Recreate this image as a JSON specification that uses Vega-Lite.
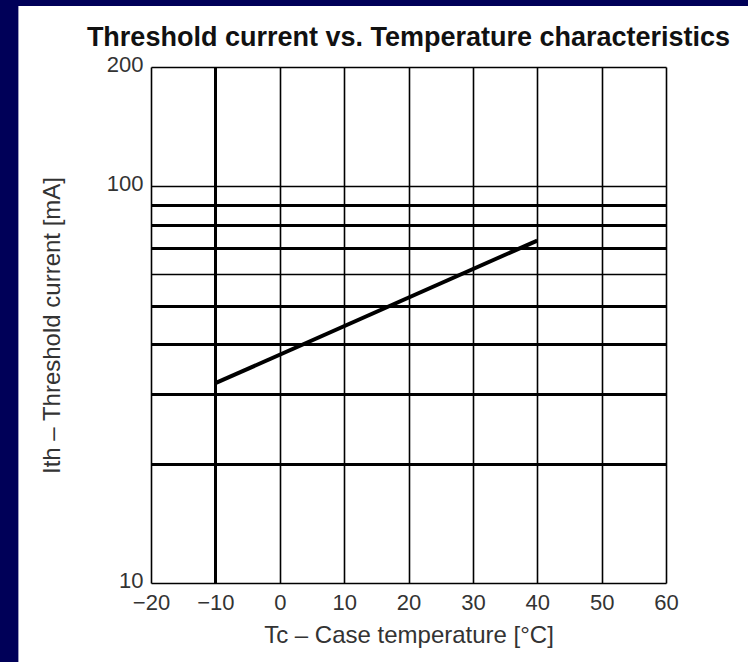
{
  "$schema": "https://vega.github.io/schema/vega-lite/v6.json",
  "width": 515,
  "height": 516,
  "autosize": {"type": "none"},
  "padding": {"left": 151, "top": 67, "right": 82, "bottom": 79},
  "background": "#000058",
  "title": {
    "text": "Threshold current vs. Temperature characteristics",
    "font": "Liberation Sans",
    "fontSize": 27,
    "fontWeight": "bold",
    "color": "#111111",
    "anchor": "middle",
    "baseline": "alphabetic",
    "offset": -67
  },
  "config": {
    "view": {"stroke": null},
    "font": "Liberation Sans"
  },
  "datasets": {
    "panel": [{"x0": -40.6, "x1": 75, "y0": 6.2, "y1": 285}],
    "curve": [
      {"temp": -10, "ith": 31.9},
      {"temp": 40, "ith": 73}
    ]
  },
  "layer": [
    {
      "data": {"name": "panel"},
      "mark": {"type": "rect", "color": "#ffffff", "clip": false},
      "encoding": {
        "x": {"field": "x0", "type": "quantitative", "title": "Tc – Case temperature [°C]", "scale": {"domain": [-20, 60], "nice": false, "zero": false}},
        "x2": {"field": "x1"},
        "y": {"field": "y0", "type": "quantitative", "title": "Ith – Threshold current [mA]", "scale": {"type": "log", "domain": [10, 200], "nice": false}},
        "y2": {"field": "y1"}
      }
    },
    {
      "data": {"name": "curve"},
      "mark": {"type": "line", "color": "#000000", "strokeWidth": 4},
      "encoding": {
        "x": {
          "field": "temp",
          "type": "quantitative",
          "title": "Tc – Case temperature [°C]",
          "scale": {"domain": [-20, 60], "nice": false, "zero": false},
          "axis": {
            "zindex": 2,
            "values": [-20, -10, 0, 10, 20, 30, 40, 50, 60],
            "format": "d",
            "grid": true,
            "gridColor": "#000000",
            "gridOpacity": 1,
            "gridWidth": {"condition": {"test": "datum.value == -10", "value": 3}, "value": 1.6},
            "ticks": false,
            "domain": false,
            "labelFlush": false,
            "labelFontSize": 22,
            "labelColor": "#333333",
            "labelPadding": 9,
            "titleFontSize": 24,
            "titleFontWeight": "normal",
            "titleColor": "#333333",
            "titlePadding": 10
          }
        },
        "y": {
          "field": "ith",
          "type": "quantitative",
          "title": "Ith – Threshold current [mA]",
          "scale": {"type": "log", "domain": [10, 200], "nice": false},
          "axis": {
            "zindex": 2,
            "values": [10, 20, 30, 40, 50, 60, 70, 80, 90, 100, 200],
            "format": "d",
            "labelExpr": "datum.value == 10 || datum.value == 100 || datum.value == 200 ? datum.label : ''",
            "grid": true,
            "gridColor": "#000000",
            "gridOpacity": 1,
            "gridWidth": {"condition": {"test": "datum.value == 10 || datum.value == 60 || datum.value == 100 || datum.value == 200", "value": 1.6}, "value": 3},
            "ticks": false,
            "domain": false,
            "labelFlush": false,
            "labelFontSize": 22,
            "labelColor": "#333333",
            "labelPadding": 8,
            "labelOffset": -3,
            "titleFontSize": 24,
            "titleFontWeight": "normal",
            "titleColor": "#333333",
            "titlePadding": 42
          }
        }
      }
    }
  ]
}
